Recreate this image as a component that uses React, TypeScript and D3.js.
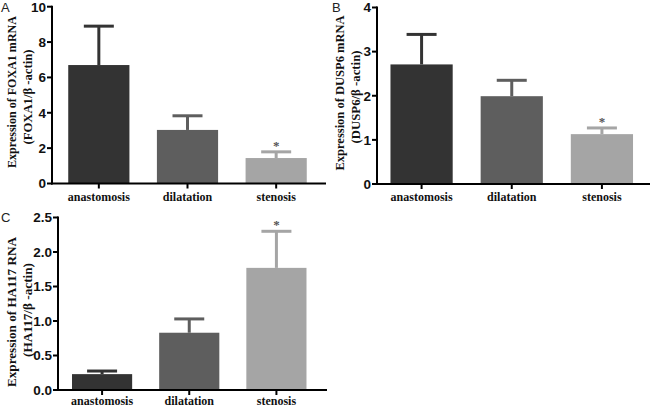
import React from "react";
import * as d3 from "d3";

const categories = ["anastomosis", "dilatation", "stenosis"];

const meansA = [6.7, 3.03, 1.44];
const errA = [2.2, 0.8, 0.35];
const ticksA = [0, 2, 4, 6, 8, 10];

const meansB = [2.71, 1.99, 1.13];
const errB = [0.68, 0.36, 0.14];
const ticksB = [0, 1, 2, 3, 4];

const meansC = [0.23, 0.83, 1.77];
const errC = [0.045, 0.2, 0.53];
const ticksC = [0, 0.5, 1.0, 1.5, 2.0, 2.5];

const starFlags = [false, false, true];

const colors = ["#333333", "#5e5e5e", "#a5a5a5"];

type PanelProps = {
  letter: string;
  title1: string;
  title2: string;
  means: number[];
  errs: number[];
  ticks: number[];
  yMax: number;
  fmt: (v: number) => string;
  axisX: number;
  axisEnd: number;
  yTop: number;
  yBottom: number;
  bandLo: number;
  bandHi: number;
  letterX: number;
  letterY: number;
  title1X: number;
  title2X: number;
  title1Y: number;
  title2Y: number;
  title1Len: number;
  title2Len: number;
  labelY: number;
};

function Panel(p: PanelProps) {
  const x = d3
    .scaleBand<string>()
    .domain(categories)
    .range([p.bandLo, p.bandHi])
    .paddingInner(0.31)
    .paddingOuter(0.155);
  const y = d3.scaleLinear().domain([0, p.yMax]).range([p.yBottom, p.yTop]);
  const bw = x.bandwidth();
  return (
    <g>
      <text
        x={p.letterX}
        y={p.letterY}
        fontFamily="Liberation Sans, Arial, sans-serif"
        fontSize={13}
        fill="#222"
      >
        {p.letter}
      </text>
      {categories.map((c, i) => {
        const x0 = x(c)!;
        const cx = x0 + bw / 2;
        const top = y(p.means[i]);
        const et = y(p.means[i] + p.errs[i]);
        return (
          <g key={c}>
            <line x1={cx} x2={cx} y1={top} y2={et} stroke={colors[i]} strokeWidth={3} />
            <line x1={cx - 15} x2={cx + 15} y1={et} y2={et} stroke={colors[i]} strokeWidth={3} />
            <rect x={x0} y={top} width={bw} height={p.yBottom - top} fill={colors[i]} />
            {starFlags[i] && (
              <text
                x={cx}
                y={et - 2}
                textAnchor="middle"
                fontFamily="Liberation Serif, Times New Roman, serif"
                fontSize={13}
                fontWeight="bold"
                fill="#555"
              >
                *
              </text>
            )}
            <line x1={cx} x2={cx} y1={p.yBottom} y2={p.yBottom + 5} stroke="#000" strokeWidth={2} />
            <text
              x={cx}
              y={p.labelY}
              textAnchor="middle"
              fontFamily="Liberation Serif, Times New Roman, serif"
              fontWeight="bold"
              fontSize={12}
              fill="#111"
            >
              {c}
            </text>
          </g>
        );
      })}
      <line x1={p.axisX} x2={p.axisX} y1={p.yTop - 1} y2={p.yBottom + 1} stroke="#000" strokeWidth={2} />
      <line x1={p.axisX - 1} x2={p.axisEnd} y1={p.yBottom} y2={p.yBottom} stroke="#000" strokeWidth={2} />
      {p.ticks.map((t) => (
        <g key={t}>
          <line x1={p.axisX - 5} x2={p.axisX} y1={y(t)} y2={y(t)} stroke="#000" strokeWidth={2} />
          <text
            x={p.axisX - 6}
            y={y(t)}
            dy="0.36em"
            textAnchor="end"
            fontFamily="Liberation Sans, Arial, sans-serif"
            fontWeight="bold"
            fontSize={13.5}
            fill="#111"
          >
            {p.fmt(t)}
          </text>
        </g>
      ))}
      <text
        transform={`translate(${p.title1X},${p.title1Y}) rotate(-90)`}
        textAnchor="middle"
        dy="0.35em"
        fontFamily="Liberation Serif, Times New Roman, serif"
        fontWeight="bold"
        fontSize={13}
        textLength={p.title1Len}
        lengthAdjust="spacingAndGlyphs"
        fill="#111"
      >
        {p.title1}
      </text>
      <text
        transform={`translate(${p.title2X},${p.title2Y}) rotate(-90)`}
        textAnchor="middle"
        dy="0.35em"
        fontFamily="Liberation Serif, Times New Roman, serif"
        fontWeight="bold"
        fontSize={13}
        textLength={p.title2Len}
        lengthAdjust="spacingAndGlyphs"
        fill="#111"
      >
        {p.title2}
      </text>
    </g>
  );
}

export default function App() {
  const intFmt = d3.format("d");
  const decFmt = d3.format(".1f");
  return (
    <svg
      width={650}
      height={409}
      style={{ position: "absolute", left: 0, top: 0, background: "#fff" }}
    >
      <rect width={650} height={409} fill="#fff" />
      <Panel
        letter="A"
        title1="Expression of FOXA1 mRNA"
        title2="(FOXA1/β -actin)"
        means={meansA}
        errs={errA}
        ticks={ticksA}
        yMax={10}
        fmt={intFmt}
        axisX={52}
        axisEnd={326}
        yTop={6.7}
        yBottom={183.5}
        bandLo={54.5}
        bandHi={320.5}
        letterX={1}
        letterY={12}
        title1X={11}
        title2X={27}
        title1Y={92}
        title2Y={97}
        title1Len={152}
        title2Len={95}
        labelY={201}
      />
      <Panel
        letter="B"
        title1="Expression of DUSP6 mRNA"
        title2="(DUSP6/β -actin)"
        means={meansB}
        errs={errB}
        ticks={ticksB}
        yMax={4}
        fmt={intFmt}
        axisX={377}
        axisEnd={650}
        yTop={7.5}
        yBottom={184}
        bandLo={376.5}
        bandHi={647}
        letterX={332}
        letterY={12}
        title1X={339}
        title2X={355}
        title1Y={93}
        title2Y={97}
        title1Len={155}
        title2Len={93}
        labelY={201}
      />
      <Panel
        letter="C"
        title1="Expression of HA117 RNA"
        title2="(HA117/β -actin)"
        means={meansC}
        errs={errC}
        ticks={ticksC}
        yMax={2.5}
        fmt={decFmt}
        axisX={58}
        axisEnd={327}
        yTop={217.5}
        yBottom={390}
        bandLo={58.5}
        bandHi={320}
        letterX={1}
        letterY={222}
        title1X={11}
        title2X={27}
        title1Y={312}
        title2Y={310}
        title1Len={150}
        title2Len={94}
        labelY={405}
      />
    </svg>
  );
}
